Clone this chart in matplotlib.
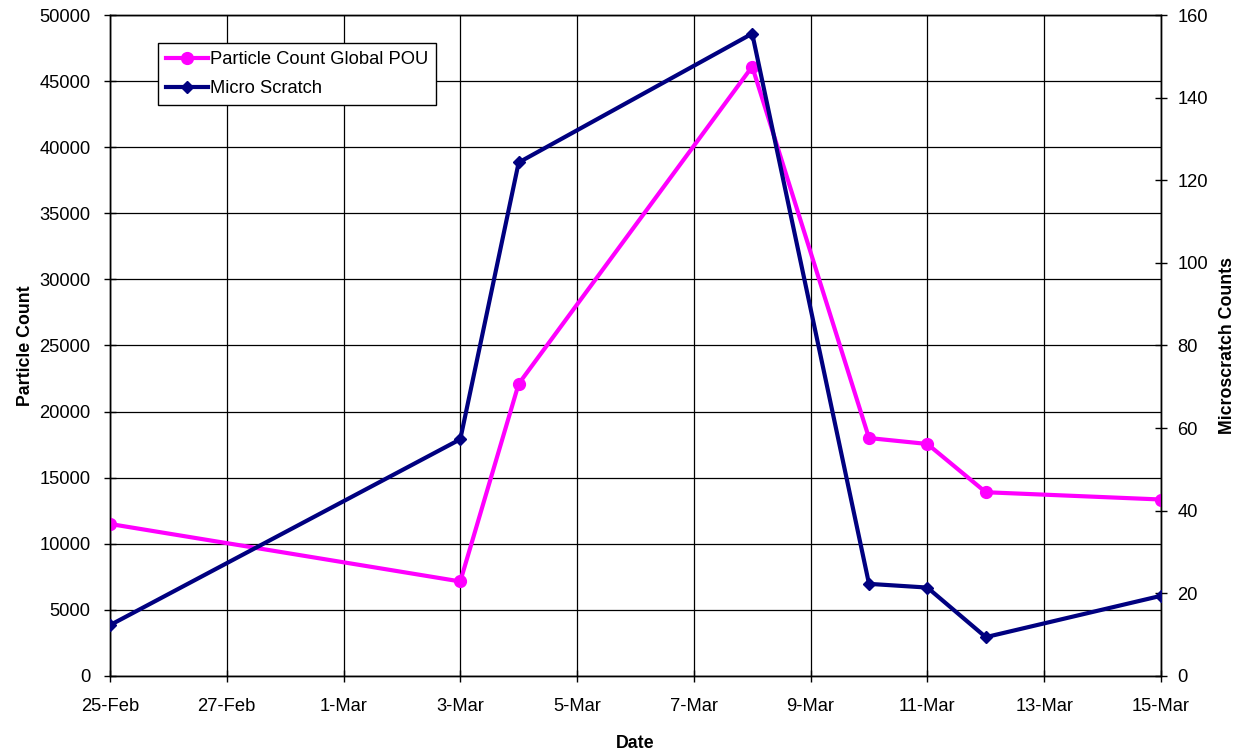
import datetime as dt
import matplotlib
matplotlib.use("Agg")
import matplotlib.pyplot as plt
import matplotlib.dates as mdates
from matplotlib.lines import Line2D

plt.rcParams['font.family'] = ['Liberation Sans', 'DejaVu Sans']

# Sample dates (day, month) in a non-leap year
dates = [dt.date(2003, 2, 25), dt.date(2003, 3, 3), dt.date(2003, 3, 4),
         dt.date(2003, 3, 8), dt.date(2003, 3, 10), dt.date(2003, 3, 11),
         dt.date(2003, 3, 12), dt.date(2003, 3, 15)]
particle_count = [11500, 7150, 22100, 46100, 18000, 17550, 13900, 13350]
micro_scratch = [12.3, 57.3, 124.3, 155.5, 22.3, 21.4, 9.4, 19.4]

left_ticks = list(range(0, 50001, 5000))
right_ticks = list(range(0, 161, 20))

PINK = '#FF00FF'
NAVY = '#000080'
FS = 13.2
LFS = 12.8

fig = plt.figure(figsize=(12.34, 7.51), dpi=100)
ax = fig.add_axes([0.0891, 0.0999, 0.8517, 0.8801])
ax2 = ax.twinx()

ax.plot(dates, particle_count, color=PINK, lw=3, marker='o', ms=8.5,
        solid_joinstyle='round', zorder=3)
ax2.plot(dates, micro_scratch, color=NAVY, lw=3, marker='D', ms=6.5,
         solid_joinstyle='round', zorder=3)

ax.set_xlim(dt.date(2003, 2, 25), dt.date(2003, 3, 15))
ax.set_ylim(0, 50000)
ax2.set_ylim(0, 160)
ax.set_yticks(left_ticks)
ax2.set_yticks(right_ticks)

ax.xaxis.set_major_locator(mdates.DayLocator(bymonthday=[1, 3, 5, 7, 9, 11, 13, 15, 25, 27]))
ax.xaxis.set_major_formatter(mdates.DateFormatter('%-d-%b'))

ax.grid(True, color='black', lw=0.9)
ax.set_axisbelow(True)

for a in (ax, ax2):
    for s in a.spines.values():
        s.set_color('black')
        s.set_linewidth(1.0)
ax.tick_params(axis='both', direction='inout', length=8, width=1, labelsize=FS,
               colors='black')
ax.tick_params(axis='x', pad=12)
ax.tick_params(axis='y', pad=10)
ax2.tick_params(axis='y', direction='inout', length=8, width=1, labelsize=FS,
                colors='black', pad=8)

ax.set_xlabel('Date', fontsize=LFS, fontweight='bold', labelpad=14)
ax.set_ylabel('Particle Count', fontsize=LFS, fontweight='bold', labelpad=4)
ax2.set_ylabel('Microscratch Counts', fontsize=LFS, fontweight='bold', labelpad=8)

handles = [
    Line2D([], [], color=PINK, lw=3, marker='o', ms=8.5),
    Line2D([], [], color=NAVY, lw=3, marker='D', ms=6.5),
]
leg = ax2.legend(handles, ['Particle Count Global POU', 'Micro Scratch'],
                 loc='upper left', bbox_to_anchor=(0.046, 0.957), fontsize=FS,
                 frameon=True, fancybox=False, framealpha=1, edgecolor='black',
                 handlelength=2.3, handletextpad=0.1, borderpad=0.42,
                 labelspacing=0.66, borderaxespad=0)
leg.get_frame().set_linewidth(1.0)

fig.savefig('out.png', dpi=100)
